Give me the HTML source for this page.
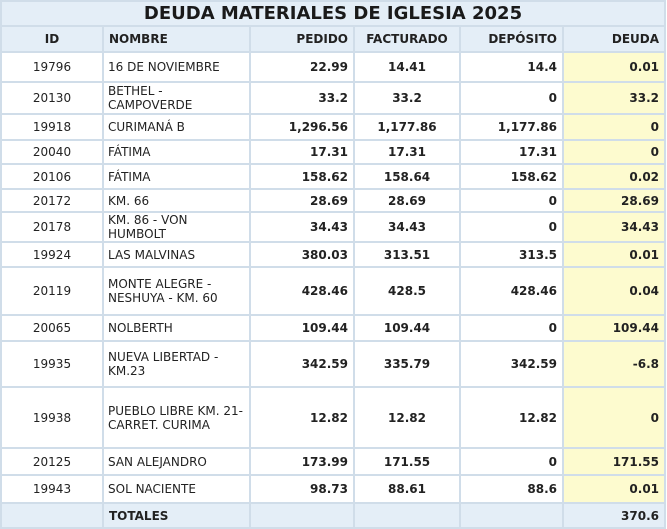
<!DOCTYPE html><html><head><meta charset="utf-8"><style>
html,body{margin:0;padding:0;background:#fff;width:667px;height:528px;overflow:hidden}
table{position:absolute;left:0;top:0;border-collapse:collapse;table-layout:fixed;width:666px;font-family:"DejaVu Sans","Liberation Sans",sans-serif;font-size:12px;color:#222}
td{border:2px solid #d0dde9;padding:0 5px;overflow:hidden;line-height:14px}
.t td{background:#e4eef7;text-align:center;font-weight:bold;font-size:18px;color:#1a1a1a}
.h td{background:#e4eef7;font-weight:bold;font-size:12px}
.c{text-align:center}.r{text-align:right;font-weight:bold}.d{background:#fdfbcf;text-align:right;font-weight:bold}
.n{font-size:12px;padding-left:4px}
.tot td{background:#e4eef7;font-weight:bold}
</style></head><body>
<table>
<colgroup><col style="width:102px"><col style="width:147px"><col style="width:104px"><col style="width:106px"><col style="width:103px"><col style="width:102px"></colgroup>
<tr class="t" style="height:25px"><td colspan="6">DEUDA MATERIALES DE IGLESIA 2025</td></tr>
<tr class="h" style="height:26px"><td class="c">ID</td><td>NOMBRE</td><td style="text-align:right">PEDIDO</td><td class="c">FACTURADO</td><td style="text-align:right">DEPÓSITO</td><td style="text-align:right">DEUDA</td></tr>
<tr style="height:30px"><td class="c">19796</td><td class="n">16 DE NOVIEMBRE</td><td class="r">22.99</td><td class="c" style="font-weight:bold">14.41</td><td class="r">14.4</td><td class="d">0.01</td></tr>
<tr style="height:32px"><td class="c">20130</td><td class="n">BETHEL -<br>CAMPOVERDE</td><td class="r">33.2</td><td class="c" style="font-weight:bold">33.2</td><td class="r">0</td><td class="d">33.2</td></tr>
<tr style="height:26px"><td class="c">19918</td><td class="n">CURIMANÁ B</td><td class="r">1,296.56</td><td class="c" style="font-weight:bold">1,177.86</td><td class="r">1,177.86</td><td class="d">0</td></tr>
<tr style="height:24px"><td class="c">20040</td><td class="n">FÁTIMA</td><td class="r">17.31</td><td class="c" style="font-weight:bold">17.31</td><td class="r">17.31</td><td class="d">0</td></tr>
<tr style="height:25px"><td class="c">20106</td><td class="n">FÁTIMA</td><td class="r">158.62</td><td class="c" style="font-weight:bold">158.64</td><td class="r">158.62</td><td class="d">0.02</td></tr>
<tr style="height:23px"><td class="c">20172</td><td class="n">KM. 66</td><td class="r">28.69</td><td class="c" style="font-weight:bold">28.69</td><td class="r">0</td><td class="d">28.69</td></tr>
<tr style="height:30px"><td class="c">20178</td><td class="n">KM. 86 - VON<br>HUMBOLT</td><td class="r">34.43</td><td class="c" style="font-weight:bold">34.43</td><td class="r">0</td><td class="d">34.43</td></tr>
<tr style="height:25px"><td class="c">19924</td><td class="n">LAS MALVINAS</td><td class="r">380.03</td><td class="c" style="font-weight:bold">313.51</td><td class="r">313.5</td><td class="d">0.01</td></tr>
<tr style="height:48px"><td class="c">20119</td><td class="n">MONTE ALEGRE -<br>NESHUYA - KM. 60</td><td class="r">428.46</td><td class="c" style="font-weight:bold">428.5</td><td class="r">428.46</td><td class="d">0.04</td></tr>
<tr style="height:26px"><td class="c">20065</td><td class="n">NOLBERTH</td><td class="r">109.44</td><td class="c" style="font-weight:bold">109.44</td><td class="r">0</td><td class="d">109.44</td></tr>
<tr style="height:46px"><td class="c">19935</td><td class="n">NUEVA LIBERTAD -<br>KM.23</td><td class="r">342.59</td><td class="c" style="font-weight:bold">335.79</td><td class="r">342.59</td><td class="d">-6.8</td></tr>
<tr style="height:61px"><td class="c">19938</td><td class="n">PUEBLO LIBRE KM. 21-<br>CARRET. CURIMA</td><td class="r">12.82</td><td class="c" style="font-weight:bold">12.82</td><td class="r">12.82</td><td class="d">0</td></tr>
<tr style="height:27px"><td class="c">20125</td><td class="n">SAN ALEJANDRO</td><td class="r">173.99</td><td class="c" style="font-weight:bold">171.55</td><td class="r">0</td><td class="d">171.55</td></tr>
<tr style="height:28px"><td class="c">19943</td><td class="n">SOL NACIENTE</td><td class="r">98.73</td><td class="c" style="font-weight:bold">88.61</td><td class="r">88.6</td><td class="d">0.01</td></tr>
<tr class="tot" style="height:25px"><td></td><td>TOTALES</td><td></td><td></td><td></td><td style="text-align:right">370.6</td></tr>
</table>
</body></html>
